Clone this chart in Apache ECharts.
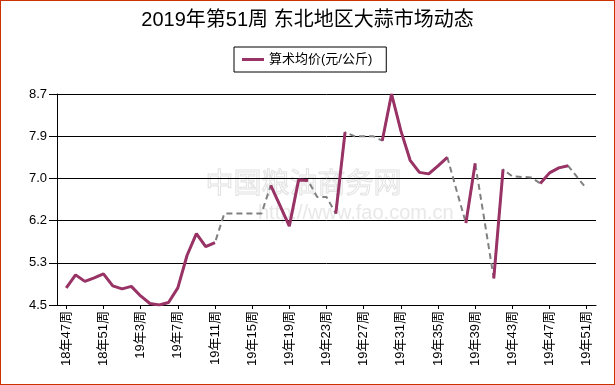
<!DOCTYPE html>
<html><head><meta charset="utf-8">
<script src="https://cdn.jsdelivr.net/npm/echarts@6/dist/echarts.min.js"></script>
<style>
html,body{margin:0;padding:0;background:#fff}
#c{position:absolute;left:0;top:0;width:615px;height:385px}
#b{position:absolute;left:0;top:0;width:615px;height:385px;box-sizing:border-box;border:1px solid #cc3300;pointer-events:none}
</style>
</head><body><div id="c"></div><div id="b"></div>
<script>
const categories = ['18年47周','18年48周','18年49周','18年50周','18年51周','18年52周',
'19年1周','19年2周','19年3周','19年4周','19年5周','19年6周','19年7周','19年8周','19年9周','19年10周',
'19年11周','19年12周','19年13周','19年14周','19年15周','19年16周','19年17周','19年18周','19年19周','19年20周',
'19年21周','19年22周','19年23周','19年24周','19年25周','19年26周','19年27周','19年28周','19年29周','19年30周',
'19年31周','19年32周','19年33周','19年34周','19年35周','19年36周','19年37周','19年38周','19年39周','19年40周',
'19年41周','19年42周','19年43周','19年44周','19年45周','19年46周','19年47周','19年48周','19年49周','19年50周','19年51周'];
// 算术均价 (reported weeks)
const avgPrice = [4.84,5.10,4.97,5.04,5.12,4.88,
4.82,4.87,4.68,4.53,4.50,4.55,4.84,5.49,5.92,5.66,
5.74,null,null,null,null,null,6.88,6.48,6.07,6.99,
6.98,null,null,6.32,7.94,null,null,null,7.77,8.70,
7.97,7.38,7.14,7.11,7.27,7.44,null,6.13,7.32,null,
5.03,7.20,null,null,null,6.92,7.13,7.23,7.27,null,null];
// gray dashed values for weeks without a reported average
const estPrice = [null,null,null,null,null,null,
null,null,null,null,null,null,null,null,null,null,
null,6.32,6.32,6.32,6.32,6.32,null,null,null,null,
null,6.65,6.65,null,null,7.86,7.86,7.86,null,null,
null,null,null,null,null,null,6.78,null,null,6.18,
null,null,7.06,7.05,7.04,null,null,null,null,7.04,6.81];
const yTicks = [4.5, 5.34, 6.18, 7.02, 7.86, 8.7];

const xCats = [''].concat(categories, ['']);
const pad = a => [null].concat(a, [null]);
const fullLine = avgPrice.map((v, i) => v != null ? v : estPrice[i]);
const showIdx = (idx) => idx >= 1 && idx <= categories.length && (idx - 1) % 4 === 0;
const FONT = "'Liberation Sans','Noto Sans CJK SC',sans-serif";

const chart = echarts.init(document.getElementById('c'), null, {renderer: 'canvas'});
chart.setOption({
  backgroundColor: '#fff',
  animation: false,
  title: {
    text: '2019年第51周 东北地区大蒜市场动态',
    left: 'center', top: 10, padding: 0,
    textStyle: {fontSize: 20, fontWeight: 'normal', color: '#000', fontFamily: FONT}
  },
  legend: {
    data: ['算术均价(元/公斤)'],
    left: 234, top: 47,
    padding: [6, 14, 6, 8],
    borderColor: '#000', borderWidth: 1,
    icon: 'rect', itemWidth: 22, itemHeight: 3, itemGap: 4,
    textStyle: {fontSize: 13, color: '#000', fontFamily: FONT}
  },
  graphic: [
    {type: 'text', left: 205, top: 168, silent: true, z: -1,
     style: {text: '中国粮油商务网', font: "28px 'Noto Sans CJK SC'", fill: 'rgba(0,0,0,0)', stroke: '#e2e2e2', lineWidth: 1}},
    {type: 'text', left: 258, top: 203, silent: true, z: -1,
     style: {text: 'http://www.fao.com.cn', font: "20px 'Liberation Sans'", fill: '#e8e8e8'}}
  ],
  grid: {left: 57, right: 19, top: 94, bottom: 80, containLabel: false},
  xAxis: {
    type: 'category', data: xCats, boundaryGap: false,
    axisLine: {lineStyle: {color: '#000', width: 1}},
    axisTick: {show: true, interval: showIdx, length: 4, lineStyle: {color: '#000'}},
    axisLabel: {interval: showIdx, rotate: 90, margin: 6, fontSize: 13, color: '#000', fontFamily: FONT},
    splitLine: {show: false}
  },
  yAxis: {
    type: 'value', min: 4.5, max: 8.7,
    axisLine: {show: true, lineStyle: {color: '#000', width: 1}},
    axisTick: {show: true, customValues: yTicks, length: 8, lineStyle: {color: '#000'}},
    axisLabel: {customValues: yTicks, formatter: v => Number(v).toFixed(1), margin: 10, fontSize: 13, color: '#000', fontFamily: FONT},
    splitLine: {show: true, lineStyle: {color: '#000', width: 1}}
  },
  series: [
    {name: 'est', type: 'line', data: pad(fullLine), showSymbol: false, symbol: 'none',
     connectNulls: false, lineStyle: {color: '#808080', width: 2, type: [6, 4]}, z: 2, silent: true},
    {name: '算术均价(元/公斤)', type: 'line', data: pad(avgPrice), showSymbol: false, symbol: 'none',
     connectNulls: false, itemStyle: {color: '#993366'}, lineStyle: {color: '#993366', width: 3}, z: 3}
  ]
});
</script>
</body></html>
